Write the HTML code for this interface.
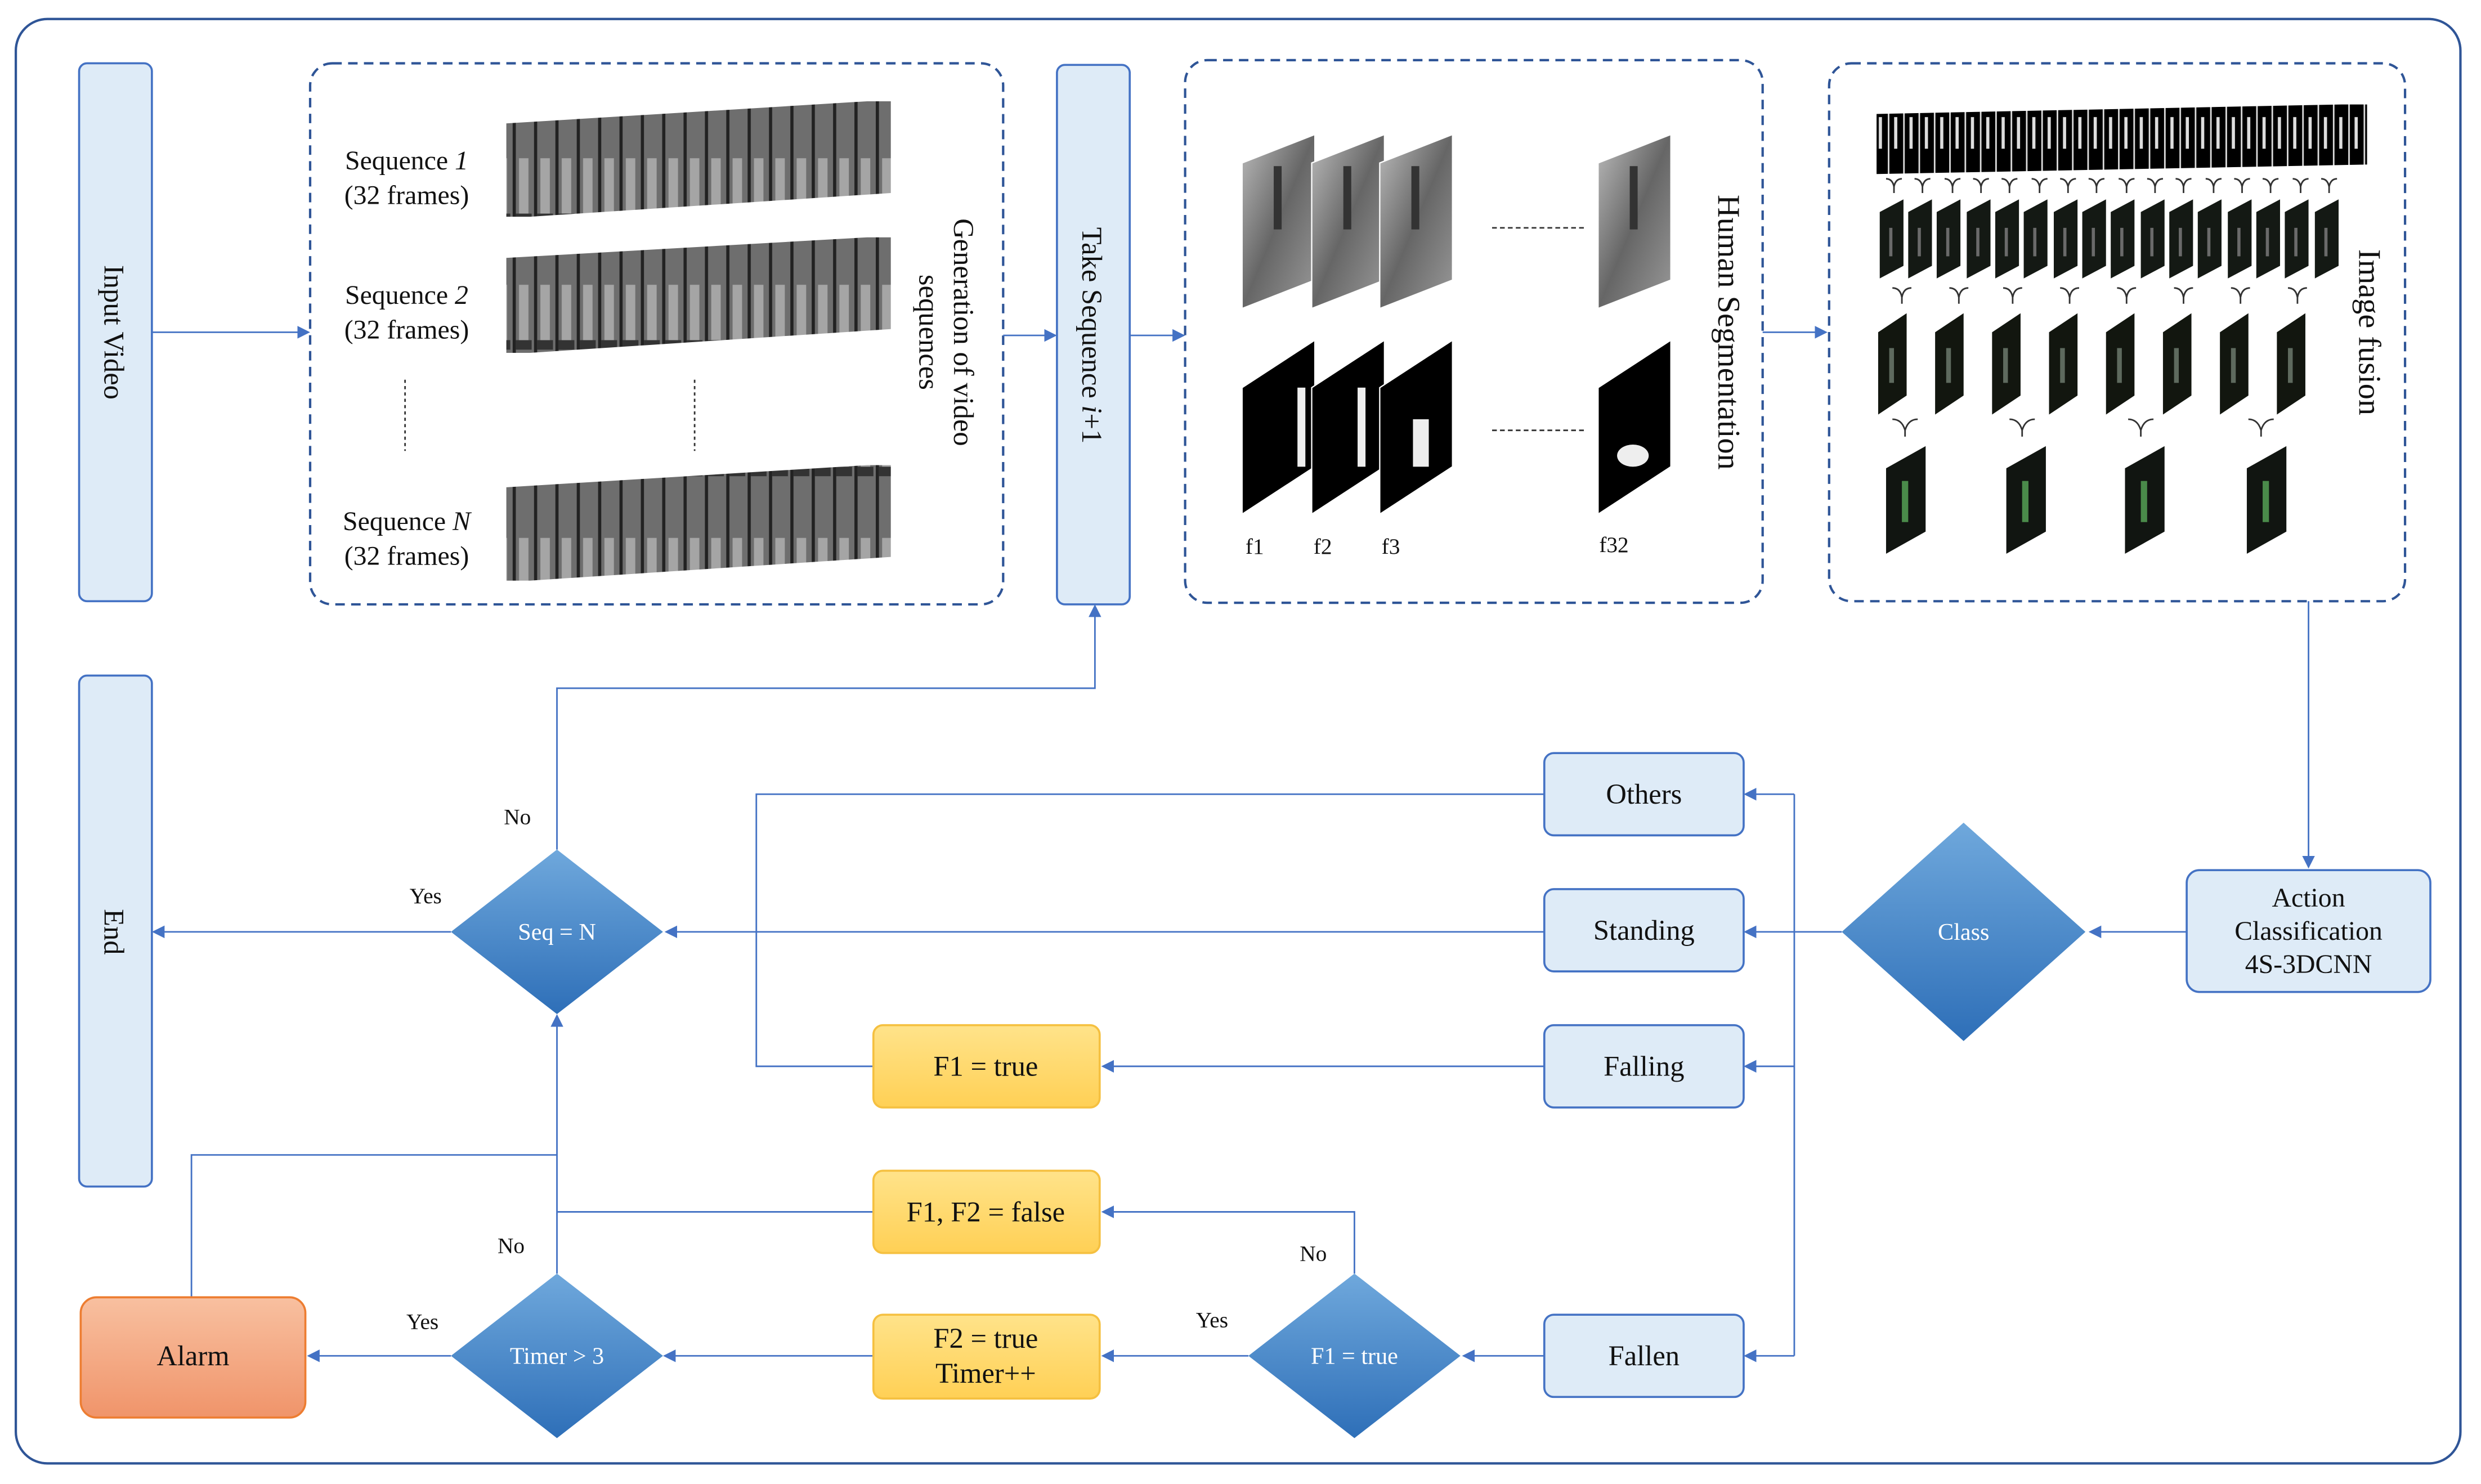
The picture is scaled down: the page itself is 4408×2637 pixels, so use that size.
<!DOCTYPE html>
<html><head><meta charset="utf-8"><style>
html,body{margin:0;padding:0;background:#fff;}
svg{display:block;}
text{font-family:"Liberation Serif",serif;fill:#111;}
</style></head><body>
<svg width="4408" height="2637" viewBox="0 0 1568 938" xmlns="http://www.w3.org/2000/svg">
<defs>
<marker id="ar" markerWidth="8" markerHeight="8" refX="7" refY="4" orient="auto" markerUnits="userSpaceOnUse">
<path d="M0,0 L8,4 L0,8 z" fill="#4472c4"/></marker>
<linearGradient id="dg" x1="0" y1="0" x2="0" y2="1"><stop offset="0" stop-color="#6fa8dc"/><stop offset="1" stop-color="#2e6fb8"/></linearGradient>
<linearGradient id="og" x1="0" y1="0" x2="0" y2="1"><stop offset="0" stop-color="#ffe38a"/><stop offset="1" stop-color="#ffd055"/></linearGradient>
<linearGradient id="rg" x1="0" y1="0" x2="0" y2="1"><stop offset="0" stop-color="#f8c0a0"/><stop offset="1" stop-color="#f0946a"/></linearGradient>
<linearGradient id="gg" x1="0" y1="0" x2="1" y2="1"><stop offset="0" stop-color="#bbb"/><stop offset="0.5" stop-color="#666"/><stop offset="1" stop-color="#999"/></linearGradient>
<pattern id="seq" width="13.5" height="80" patternUnits="userSpaceOnUse">
<rect width="13.5" height="80" fill="#6e6e6e"/><rect x="0" width="2" height="80" fill="#222"/><rect x="4" y="20" width="6" height="40" fill="#a5a5a5"/><rect x="2" y="55" width="10" height="6" fill="#333"/></pattern>
<pattern id="f1p" width="9.7" height="60" patternUnits="userSpaceOnUse">
<rect width="9.7" height="60" fill="#000"/><rect x="0" width="1" height="60" fill="#ddd"/><rect x="4" y="14" width="2" height="20" fill="#ddd"/></pattern>
<g id="fr2"><polygon points="0,8 15,0 15,42 0,50" fill="#141914"/><rect x="6" y="18" width="2" height="18" fill="#6a6a6a"/></g>
<g id="fr3"><polygon points="0,12 18,0 18,52 0,64" fill="#12160f"/><rect x="7" y="22" width="3" height="22" fill="#5e6a5e"/></g>
<g id="fr4"><polygon points="0,14 25,0 25,54 0,68" fill="#111511"/><rect x="10" y="22" width="4" height="26" fill="#4a8a4a"/></g>
<g id="gf"><polygon points="0,18 46,0 46,92 0,110" fill="url(#gg)" stroke="#fff" stroke-width="0.8"/><rect x="20" y="20" width="5" height="40" fill="#333"/></g>
<g id="bf"><polygon points="0,30 46,0 46,80 0,110" fill="#000" stroke="#fff" stroke-width="0.8"/></g>
<path id="yc" d="M0,0 q4,0 5,5 q1,-5 5,-5 M5,5 v4" fill="none" stroke="#333" stroke-width="1"/>
</defs>
<rect x="10" y="12" width="1545" height="913" rx="20" fill="#fff" stroke="#2f5597" stroke-width="1.5"/>

<rect x="50" y="40" width="46" height="340" rx="5" fill="#deebf7" stroke="#4472c4" stroke-width="1.3"/>
<text transform="translate(66,210) rotate(90)" font-size="18" text-anchor="middle">Input Video</text>
<line x1="96" y1="210" x2="195" y2="210" stroke="#4472c4" stroke-width="1" marker-end="url(#ar)"/>

<rect x="196" y="40" width="438" height="342" rx="14" fill="none" stroke="#2f5597" stroke-width="1.5" stroke-dasharray="6,4"/>
<text x="257" y="107" font-size="17" text-anchor="middle">Sequence <tspan font-style="italic">1</tspan></text>
<text x="257" y="129" font-size="17" text-anchor="middle">(32 frames)</text>
<text x="257" y="192" font-size="17" text-anchor="middle">Sequence <tspan font-style="italic">2</tspan></text>
<text x="257" y="214" font-size="17" text-anchor="middle">(32 frames)</text>
<text x="257" y="335" font-size="17" text-anchor="middle">Sequence <tspan font-style="italic">N</tspan></text>
<text x="257" y="357" font-size="17" text-anchor="middle">(32 frames)</text>
<polygon points="320,78 548,64 563,64 563,122 335,137 320,137" fill="url(#seq)"/>
<polygon points="320,163 548,150 563,150 563,208 335,223 320,223" fill="url(#seq)"/>
<polygon points="320,308 548,294 563,294 563,352 335,367 320,367" fill="url(#seq)"/>
<line x1="256" y1="240" x2="256" y2="285" stroke="#333" stroke-dasharray="2,2"/>
<line x1="439" y1="240" x2="439" y2="285" stroke="#333" stroke-dasharray="2,2"/>
<text transform="translate(603,210) rotate(90)" font-size="18" text-anchor="middle">Generation of video</text>
<text transform="translate(581,210) rotate(90)" font-size="18" text-anchor="middle">sequences</text>
<line x1="634" y1="212" x2="667" y2="212" stroke="#4472c4" marker-end="url(#ar)"/>

<rect x="668" y="41" width="46" height="341" rx="5" fill="#deebf7" stroke="#4472c4" stroke-width="1.3"/>
<text transform="translate(684,212) rotate(90)" font-size="18" text-anchor="middle">Take Sequence <tspan font-style="italic">i</tspan>+1</text>
<line x1="714" y1="212" x2="748" y2="212" stroke="#4472c4" marker-end="url(#ar)"/>

<rect x="749" y="38" width="365" height="343" rx="14" fill="none" stroke="#2f5597" stroke-width="1.5" stroke-dasharray="6,4"/>
<use href="#gf" x="785" y="85"/><use href="#gf" x="829" y="85"/><use href="#gf" x="872" y="85"/><use href="#gf" x="1010" y="85"/>
<use href="#bf" x="785" y="215"/><use href="#bf" x="829" y="215"/><use href="#bf" x="872" y="215"/><use href="#bf" x="1010" y="215"/>
<rect x="820" y="245" width="5" height="50" fill="#eee"/><rect x="858" y="245" width="5" height="50" fill="#eee"/><rect x="893" y="265" width="10" height="30" fill="#eee"/><ellipse cx="1032" cy="288" rx="10" ry="7" fill="#eee"/>
<line x1="943" y1="144" x2="1003" y2="144" stroke="#333" stroke-dasharray="3,2"/>
<line x1="943" y1="272" x2="1003" y2="272" stroke="#333" stroke-dasharray="3,2"/>
<text x="793" y="350" font-size="14" text-anchor="middle">f1</text>
<text x="836" y="350" font-size="14" text-anchor="middle">f2</text>
<text x="879" y="350" font-size="14" text-anchor="middle">f3</text>
<text x="1020" y="349" font-size="14" text-anchor="middle">f32</text>
<text transform="translate(1086,210) rotate(90)" font-size="20" text-anchor="middle">Human Segmentation</text>
<line x1="1114" y1="210" x2="1154" y2="210" stroke="#4472c4" marker-end="url(#ar)"/>

<rect x="1156" y="40" width="364" height="340" rx="14" fill="none" stroke="#2f5597" stroke-width="1.5" stroke-dasharray="6,4"/>
<polygon points="1186,72 1480,66 1496,66 1496,104 1186,110" fill="url(#f1p)"/>
<g>
<use href="#yc" x="1192" y="113"/><use href="#yc" x="1210" y="113"/><use href="#yc" x="1229" y="113"/><use href="#yc" x="1247" y="113"/>
<use href="#yc" x="1265" y="113"/><use href="#yc" x="1284" y="113"/><use href="#yc" x="1302" y="113"/><use href="#yc" x="1320" y="113"/>
<use href="#yc" x="1339" y="113"/><use href="#yc" x="1357" y="113"/><use href="#yc" x="1375" y="113"/><use href="#yc" x="1394" y="113"/>
<use href="#yc" x="1412" y="113"/><use href="#yc" x="1430" y="113"/><use href="#yc" x="1449" y="113"/><use href="#yc" x="1467" y="113"/>
</g>
<g>
<use href="#fr2" x="1188" y="126"/><use href="#fr2" x="1206" y="126"/><use href="#fr2" x="1224" y="126"/><use href="#fr2" x="1243" y="126"/>
<use href="#fr2" x="1261" y="126"/><use href="#fr2" x="1279" y="126"/><use href="#fr2" x="1298" y="126"/><use href="#fr2" x="1316" y="126"/>
<use href="#fr2" x="1334" y="126"/><use href="#fr2" x="1353" y="126"/><use href="#fr2" x="1371" y="126"/><use href="#fr2" x="1389" y="126"/>
<use href="#fr2" x="1408" y="126"/><use href="#fr2" x="1426" y="126"/><use href="#fr2" x="1444" y="126"/><use href="#fr2" x="1463" y="126"/>
<use href="#fr3" x="1187" y="198"/><use href="#fr3" x="1223" y="198"/><use href="#fr3" x="1259" y="198"/><use href="#fr3" x="1295" y="198"/>
<use href="#fr3" x="1331" y="198"/><use href="#fr3" x="1367" y="198"/><use href="#fr3" x="1403" y="198"/><use href="#fr3" x="1439" y="198"/>
<use href="#fr4" x="1192" y="282"/><use href="#fr4" x="1268" y="282"/><use href="#fr4" x="1343" y="282"/><use href="#fr4" x="1420" y="282"/>
</g>
<g fill="none" stroke="#333" stroke-width="1">
<path d="M1196,182 q5,0 6,6 q1,-6 6,-6 M1202,188 v4"/><path d="M1232,182 q5,0 6,6 q1,-6 6,-6 M1238,188 v4"/>
<path d="M1266,182 q5,0 6,6 q1,-6 6,-6 M1272,188 v4"/><path d="M1302,182 q5,0 6,6 q1,-6 6,-6 M1308,188 v4"/>
<path d="M1338,182 q5,0 6,6 q1,-6 6,-6 M1344,188 v4"/><path d="M1374,182 q5,0 6,6 q1,-6 6,-6 M1380,188 v4"/>
<path d="M1410,182 q5,0 6,6 q1,-6 6,-6 M1416,188 v4"/><path d="M1446,182 q5,0 6,6 q1,-6 6,-6 M1452,188 v4"/>
<path d="M1196,265 q6,0 8,7 q2,-7 8,-7 M1204,272 v4"/><path d="M1270,265 q6,0 8,7 q2,-7 8,-7 M1278,272 v4"/>
<path d="M1345,265 q6,0 8,7 q2,-7 8,-7 M1353,272 v4"/><path d="M1421,265 q6,0 8,7 q2,-7 8,-7 M1429,272 v4"/>
</g>
<text transform="translate(1491,210) rotate(90)" font-size="20" text-anchor="middle">Image fusion</text>

<g stroke="#4472c4" stroke-width="1" fill="none">
<line x1="1459" y1="380" x2="1459" y2="548" marker-end="url(#ar)"/>
<line x1="1382" y1="589" x2="1321" y2="589" marker-end="url(#ar)"/>
<polyline points="1164,589 1134,589"/>
<line x1="1134" y1="502" x2="1134" y2="857"/>
<line x1="1134" y1="502" x2="1103" y2="502" marker-end="url(#ar)"/>
<line x1="1134" y1="589" x2="1103" y2="589" marker-end="url(#ar)"/>
<line x1="1134" y1="674" x2="1103" y2="674" marker-end="url(#ar)"/>
<line x1="1134" y1="857" x2="1103" y2="857" marker-end="url(#ar)"/>
<polyline points="976,502 478,502 478,674 552,674"/>
<line x1="976" y1="589" x2="421" y2="589" marker-end="url(#ar)"/>
<line x1="976" y1="674" x2="697" y2="674" marker-end="url(#ar)"/>
<line x1="285" y1="589" x2="97" y2="589" marker-end="url(#ar)"/>
<polyline points="352,537 352,435 692,435 692,383" marker-end="url(#ar)"/>
<line x1="976" y1="857" x2="925" y2="857" marker-end="url(#ar)"/>
<line x1="789" y1="857" x2="697" y2="857" marker-end="url(#ar)"/>
<polyline points="856,805 856,766 697,766" marker-end="url(#ar)"/>
<polyline points="552,766 352,766"/>
<line x1="552" y1="857" x2="420" y2="857" marker-end="url(#ar)"/>
<line x1="285" y1="857" x2="195" y2="857" marker-end="url(#ar)"/>
<line x1="352" y1="805" x2="352" y2="642" marker-end="url(#ar)"/>
<polyline points="121,820 121,730 352,730"/>
</g>

<rect x="1382" y="550" width="154" height="77" rx="8" fill="#deebf7" stroke="#4472c4" stroke-width="1.3"/>
<text x="1459" y="573" font-size="17" text-anchor="middle">Action</text>
<text x="1459" y="594" font-size="17" text-anchor="middle">Classification</text>
<text x="1459" y="615" font-size="17" text-anchor="middle">4S-3DCNN</text>
<polygon points="1241,520 1318,589 1241,658 1164,589" fill="url(#dg)"/>
<text x="1241" y="594" font-size="15" text-anchor="middle" style="fill:#fff">Class</text>

<g fill="#deebf7" stroke="#4472c4" stroke-width="1.3">
<rect x="976" y="476" width="126" height="52" rx="6"/><rect x="976" y="562" width="126" height="52" rx="6"/>
<rect x="976" y="648" width="126" height="52" rx="6"/><rect x="976" y="831" width="126" height="52" rx="6"/>
</g>
<text x="1039" y="508" font-size="18" text-anchor="middle">Others</text>
<text x="1039" y="594" font-size="18" text-anchor="middle">Standing</text>
<text x="1039" y="680" font-size="18" text-anchor="middle">Falling</text>
<text x="1039" y="863" font-size="18" text-anchor="middle">Fallen</text>

<g fill="url(#og)" stroke="#f5c040" stroke-width="1.3">
<rect x="552" y="648" width="143" height="52" rx="6"/><rect x="552" y="740" width="143" height="52" rx="6"/><rect x="552" y="831" width="143" height="53" rx="6"/>
</g>
<text x="623" y="680" font-size="18" text-anchor="middle">F1 = true</text>
<text x="623" y="772" font-size="18" text-anchor="middle">F1, F2 = false</text>
<text x="623" y="852" font-size="18" text-anchor="middle">F2 = true</text>
<text x="623" y="874" font-size="18" text-anchor="middle">Timer++</text>

<polygon points="352,537 419,589 352,641 285,589" fill="url(#dg)"/>
<text x="352" y="594" font-size="15" text-anchor="middle" style="fill:#fff">Seq = N</text>
<polygon points="856,805 923,857 856,909 789,857" fill="url(#dg)"/>
<text x="856" y="862" font-size="15" text-anchor="middle" style="fill:#fff">F1 = true</text>
<polygon points="352,805 419,857 352,909 285,857" fill="url(#dg)"/>
<text x="352" y="862" font-size="15" text-anchor="middle" style="fill:#fff">Timer &gt; 3</text>

<text x="269" y="571" font-size="14" text-anchor="middle">Yes</text>
<text x="327" y="521" font-size="14" text-anchor="middle">No</text>
<text x="766" y="839" font-size="14" text-anchor="middle">Yes</text>
<text x="830" y="797" font-size="14" text-anchor="middle">No</text>
<text x="267" y="840" font-size="14" text-anchor="middle">Yes</text>
<text x="323" y="792" font-size="14" text-anchor="middle">No</text>

<rect x="50" y="427" width="46" height="323" rx="5" fill="#deebf7" stroke="#4472c4" stroke-width="1.3"/>
<text transform="translate(66,589) rotate(90)" font-size="18" text-anchor="middle">End</text>
<rect x="51" y="820" width="142" height="76" rx="10" fill="url(#rg)" stroke="#ed7d31" stroke-width="1.3"/>
<text x="122" y="863" font-size="18" text-anchor="middle">Alarm</text>
</svg>
</body></html>
